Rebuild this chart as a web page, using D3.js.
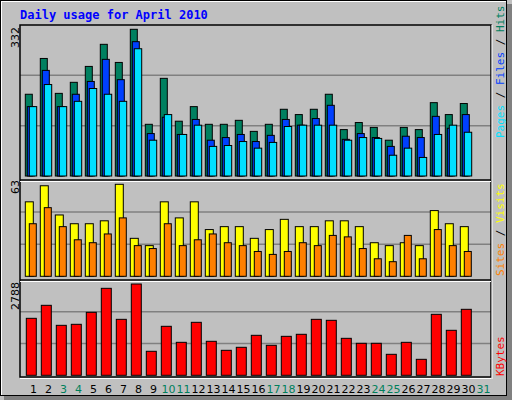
<!DOCTYPE html><html><head><meta charset="utf-8">
<script src="https://cdn.jsdelivr.net/npm/d3@7"></script>
<style>body{margin:0;background:#fff}</style></head><body><svg id="c" width="512" height="400"></svg>
<script>
const days=d3.range(1,31);
const labelDays=d3.range(1,32);
const weekend=[3,4,10,11,17,18,24,25,31];
const hits=[185,266,187,212,248,298,257,332,117,221,124,157,117,117,126,101,117,151,139,151,185,105,121,110,81,110,105,166,139,164];
const files=[157,239,157,185,214,264,218,304,96,133,94,128,81,87,94,78,92,128,115,130,160,83,96,87,67,90,87,135,108,139];
const pages=[157,207,157,169,198,185,169,288,81,139,94,115,67,69,78,63,76,112,115,115,115,81,87,85,47,63,42,94,115,99];
const visits=[51,62,42,36,36,38,63,26,21,51,40,51,32,34,34,26,32,39,34,34,38,38,34,23,21,23,21,45,36,34];
const sites=[36,47,34,25,23,29,40,21,19,36,21,25,29,23,21,17,15,17,23,21,28,27,19,12,10,28,12,32,21,17];
const kbytes=[1740,2137,1526,1557,1923,2656,1709,2788,733,1496,1007,1618,1038,763,855,1221,916,1190,1252,1709,1679,1129,977,977,641,1007,488,1862,1374,2015];

const svg=d3.select("#c");
const mono="'DejaVu Sans Mono', monospace";
svg.append("rect").attr("width",512).attr("height",400).attr("fill","#c0c0c0");
svg.append("rect").attr("x",0.5).attr("y",0.5).attr("width",506).attr("height",395).attr("fill","none").attr("stroke","#000");
svg.append("rect").attr("x",507).attr("y",4).attr("width",5).attr("height",396).attr("fill","#808080");
svg.append("rect").attr("x",4).attr("y",396).attr("width",508).attr("height",4).attr("fill","#808080");
svg.append("line").attr("x1",1).attr("x2",506).attr("y1",1.5).attr("y2",1.5).attr("stroke","#fff");
svg.append("line").attr("x1",1.5).attr("x2",1.5).attr("y1",1).attr("y2",395).attr("stroke","#fff");

svg.append("text").attr("x",20).attr("y",19).attr("font-family",mono).attr("font-weight","bold").attr("font-size",12).attr("fill","#0000ff").text("Daily usage for April 2010");

const x=d3.scaleBand().domain(labelDays).range([23,488]).paddingInner(0);
const L=20,R=491;
const panels=[{t:25,b:176,fb:180},{t:180,b:276.3,fb:280},{t:280,b:375.3,fb:378}];
panels.forEach(p=>{
  [1,2].forEach(k=>{const y=p.b-(p.b-p.t)*k/3;
    svg.append("line").attr("x1",L).attr("x2",R).attr("y1",y).attr("y2",y).attr("stroke","#808080").attr("stroke-width",1.5);});
});
const yTop=d3.scaleLinear().domain([0,332]).range([176,29.3]);
const yMid=d3.scaleLinear().domain([0,63]).range([276.3,184.3]);
const yBot=d3.scaleLinear().domain([0,2788]).range([375.3,284]);

function bars(data,y,off,w,color){
  svg.append("g").selectAll("rect").data(data).join("rect")
   .attr("x",(d,i)=>x(days[i])+off).attr("width",w)
   .attr("y",d=>y(d)).attr("height",d=>y(0)-y(d))
   .attr("fill",color).attr("stroke","#000").attr("stroke-width",1);
}
bars(hits,yTop,2.3,7,"#008060");
bars(files,yTop,4.3,7,"#0040ff");
bars(pages,yTop,6.3,7.4,"#00e0ff");
bars(visits,yMid,2.3,8,"#ffff00");
bars(sites,yMid,6.3,7,"#ff8000");
bars(kbytes,yBot,3.3,10,"#ff0000");

// frames
svg.append("rect").attr("x",L).attr("y",25).attr("width",R-L).attr("height",352).attr("fill","none").attr("stroke","#000").attr("stroke-width",1.5);
[180,280].forEach(y=>{svg.append("line").attr("x1",L).attr("x2",R).attr("y1",y).attr("y2",y).attr("stroke","#000").attr("stroke-width",1.5);
 svg.append("line").attr("x1",L).attr("x2",R).attr("y1",y+1.5).attr("y2",y+1.5).attr("stroke","#fff").attr("stroke-width",1);});
svg.append("line").attr("x1",L).attr("x2",R).attr("y1",378.5).attr("y2",378.5).attr("stroke","#fff");
svg.append("line").attr("x1",R+1).attr("x2",R+1).attr("y1",25).attr("y2",379).attr("stroke","#fff");

// max labels
[["332",27],["63",180],["2788",282]].forEach(([t,y])=>{
  svg.append("text").attr("transform",`translate(19,${y}) rotate(-90)`).attr("text-anchor","end")
   .attr("font-family","'DejaVu Sans', sans-serif").attr("font-size",11).attr("fill","#000").text(t);});

// right legends
function legend(parts,yBottom){
  const t=svg.append("text").attr("transform",`translate(504,${yBottom}) rotate(-90)`)
   .attr("font-family",mono).attr("font-size",11);
  parts.forEach(([s,c])=>t.append("tspan").attr("fill",c).text(s));
}
legend([["Pages","#00e0ff"],[" / ","#000"],["Files","#0040ff"],[" / ","#000"],["Hits","#008060"]],138);
legend([["Sites","#ff8000"],[" / ","#000"],["Visits","#ffff00"]],276);
legend([["KBytes","#ff0000"]],376);

svg.append("g").selectAll("text").data(labelDays).join("text")
 .attr("x",d=>x(d)+x.bandwidth()/2+3).attr("y",393).attr("text-anchor","middle")
 .attr("font-family","'DejaVu Sans', sans-serif").attr("font-size",11)
 .attr("fill",d=>weekend.includes(d)?"#00805c":"#000").text(d=>d);
</script></body></html>
